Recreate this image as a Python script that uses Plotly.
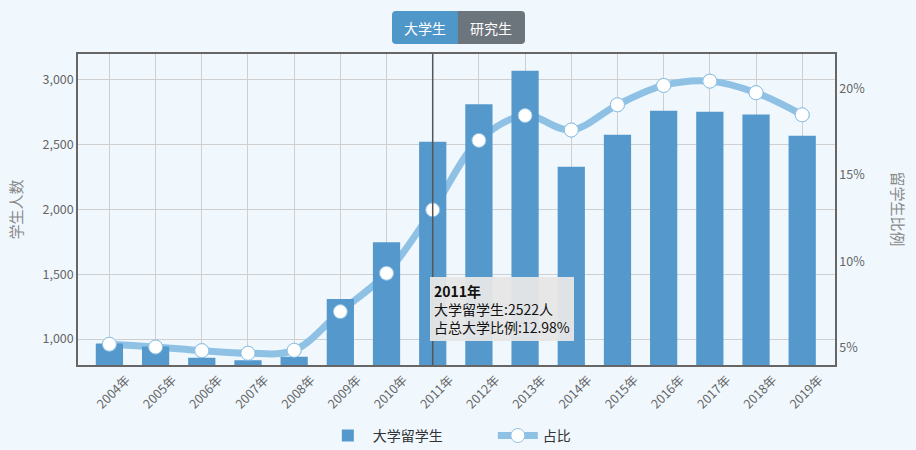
import plotly.graph_objects as go

years = ["2004年", "2005年", "2006年", "2007年", "2008年", "2009年", "2010年", "2011年",
         "2012年", "2013年", "2014年", "2015年", "2016年", "2017年", "2018年", "2019年"]
students = [965, 942, 856, 836, 864, 1310, 1748, 2522, 2813, 3071, 2329, 2576, 2762, 2754, 2733, 2569]
ratios = [5.2, 5.04, 4.83, 4.68, 4.85, 7.09, 9.31, 12.98, 17.0, 18.44, 17.6, 19.06, 20.18, 20.43, 19.76, 18.48]
pct_ticks = [5, 10, 15, 20]
pct_labels = ["5%", "10%", "15%", "20%"]
buttons = ["大学生", "研究生"]
hover_idx = 7

BAR = "#5599cc"
LINE = "#8fc1e4"
FONT = "Noto Sans CJK SC, Noto Sans, sans-serif"
BG = "#f0f8fe"

W, H = 916, 450
ML, MR, MT, MB = 78, 81, 54, 85
PW, PH = W - ML - MR, H - MT - MB


def px_x(px):
    return (px - ML) / PW


def px_y(py):
    return (H - MB - py) / PH


fig = go.Figure()

# ratio line (behind bars)
fig.add_trace(go.Scatter(
    x=years, y=ratios, name="占比", mode="lines+markers", yaxis="y",
    line=dict(color=LINE, width=7, shape="spline", smoothing=1.0),
    marker=dict(size=14, color="white", line=dict(color=LINE, width=1)),
    legendrank=2, hoverinfo="skip",
))

# bars
fig.add_trace(go.Bar(
    x=years, y=students, name="大学留学生", yaxis="y2",
    marker=dict(color=BAR, line=dict(width=0)), width=0.59,
    legendrank=1, hoverinfo="skip",
))

# markers on top of bars
fig.add_trace(go.Scatter(
    x=years, y=ratios, mode="markers", yaxis="y3", showlegend=False,
    marker=dict(size=14, color="white", line=dict(color=LINE, width=1)),
    hoverinfo="skip",
))

tick_font = dict(family=FONT, size=12.5, color="#666666")

fig.update_layout(
    width=W, height=H,
    margin=dict(l=ML, r=MR, t=MT, b=MB, autoexpand=False),
    paper_bgcolor=BG, plot_bgcolor=BG,
    font=dict(family=FONT, color="#333333"),
    showlegend=True,
    legend=dict(orientation="h", x=0.548, xanchor="center", y=-0.228, yanchor="middle",
                font=dict(family=FONT, size=14, color="#333333"), bgcolor="rgba(0,0,0,0)",
                itemwidth=40, entrywidth=115, entrywidthmode="pixels"),
    xaxis=dict(type="category", range=[-0.68, 15.71], showgrid=True, gridcolor="#cfcfcf",
               gridwidth=1, tickangle=-45, tickfont=tick_font, showline=True,
               linecolor="#666666", linewidth=1.5, mirror=True, ticks="", zeroline=False,
               ticklabelshift=17, ticklabelstandoff=1),
    yaxis=dict(side="right", range=[4, 22], tickvals=pct_ticks, ticktext=pct_labels,
               showgrid=False, zeroline=False, tickfont=tick_font, showline=True,
               linecolor="#666666", linewidth=1.5, ticks=""),
    yaxis2=dict(side="left", overlaying="y", range=[800, 3200], tick0=0, dtick=500,
                tickformat=",d", showgrid=True, gridcolor="#cfcfcf", gridwidth=1,
                zeroline=False, tickfont=tick_font, showline=True, linecolor="#666666",
                linewidth=1.5, ticks=""),
    yaxis3=dict(overlaying="y", range=[4, 22], visible=False),
    bargap=0.41,
)

# hover crosshair
fig.add_shape(type="line", xref="x", yref="paper", x0=years[hover_idx], x1=years[hover_idx],
              y0=0, y1=1, line=dict(color="#555555", width=1.5), layer="above")

# tooltip
fig.add_annotation(
    xref="x", yref="paper", x=years[hover_idx], y=0.283, xanchor="left", yanchor="top",
    xshift=-3, showarrow=False, align="left",
    text=f"<b>{years[hover_idx]}</b><br>大学留学生:{students[hover_idx]}人<br>占总大学比例:{ratios[hover_idx]:.2f}%",
    font=dict(family=FONT, size=14, color="#111111"),
    bgcolor="rgba(230,230,230,0.96)", borderpad=4, borderwidth=0,
)

# axis titles
fig.add_annotation(xref="paper", yref="paper", x=px_x(15), y=0.5, xanchor="center",
                   yanchor="middle", showarrow=False, text="学生人数", textangle=-90,
                   font=dict(family=FONT, size=15, color="#888888"))
fig.add_annotation(xref="paper", yref="paper", x=px_x(898), y=0.5, xanchor="center",
                   yanchor="middle", showarrow=False, text="留学生比例", textangle=90,
                   font=dict(family=FONT, size=15, color="#888888"))


# toggle buttons (rounded outer corners)
def rounded_path(x0, x1, y0, y1, r, left_round, right_round):
    # pixel coordinates -> paper path
    def P(x, y):
        return f"{px_x(x):.5f},{px_y(y):.5f}"
    parts = []
    if left_round:
        parts.append(f"M{P(x0 + r, y0)}")
    else:
        parts.append(f"M{P(x0, y0)}")
    if right_round:
        parts.append(f"L{P(x1 - r, y0)}")
        parts.append(f"Q{P(x1, y0)} {P(x1, y0 + r)}")
        parts.append(f"L{P(x1, y1 - r)}")
        parts.append(f"Q{P(x1, y1)} {P(x1 - r, y1)}")
    else:
        parts.append(f"L{P(x1, y0)}")
        parts.append(f"L{P(x1, y1)}")
    if left_round:
        parts.append(f"L{P(x0 + r, y1)}")
        parts.append(f"Q{P(x0, y1)} {P(x0, y1 - r)}")
        parts.append(f"L{P(x0, y0 + r)}")
        parts.append(f"Q{P(x0, y0)} {P(x0 + r, y0)}")
    else:
        parts.append(f"L{P(x0, y1)}")
    parts.append("Z")
    return " ".join(parts)


btn_edges = [392, 458, 525]
btn_top, btn_bot = 11, 44
btn_colors = ["#4f96c9", "#6c747c"]
for i, label in enumerate(buttons):
    x0, x1 = btn_edges[i], btn_edges[i + 1]
    fig.add_shape(type="path", xref="paper", yref="paper",
                  path=rounded_path(x0, x1, btn_top, btn_bot, 4, i == 0, i == 1),
                  fillcolor=btn_colors[i], line=dict(width=0), layer="above")
    fig.add_annotation(xref="paper", yref="paper", x=px_x((x0 + x1) / 2),
                       y=px_y((btn_top + btn_bot) / 2), xanchor="center", yanchor="middle",
                       showarrow=False, text=label,
                       font=dict(family=FONT, size=14, color="white"))

fig.write_html(
    "out.html",
    config={"displayModeBar": False},
    post_script="document.body.style.margin='0';document.body.style.background='#f0f8fe';",
)
